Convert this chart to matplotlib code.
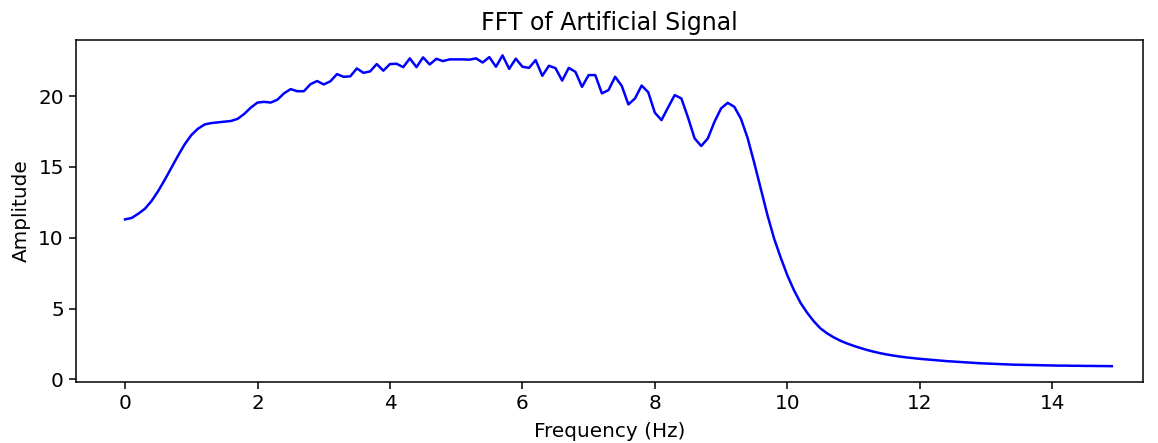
import numpy as np
import matplotlib
matplotlib.use('Agg')
import matplotlib.pyplot as plt

# frequency bins of the spectrum (0.1 Hz resolution)
freqs = np.round(np.arange(0, 15, 0.1), 1)

# FFT magnitude for each bin
amplitude = [
    11.30, 11.40, 11.70, 12.05, 12.60, 13.30, 14.10, 14.95, 15.80, 16.60,
    17.25, 17.70, 18.00, 18.10, 18.15, 18.20, 18.25, 18.40, 18.75, 19.20,
    19.55, 19.60, 19.55, 19.75, 20.20, 20.50, 20.35, 20.35, 20.85, 21.07,
    20.83, 21.05, 21.56, 21.37, 21.40, 21.96, 21.65, 21.75, 22.27, 21.80,
    22.27, 22.29, 22.05, 22.67, 22.05, 22.74, 22.24, 22.64, 22.48, 22.60,
    22.60, 22.60, 22.58, 22.67, 22.38, 22.76, 22.08, 22.88, 21.93, 22.65,
    22.08, 22.00, 22.55, 21.44, 22.15, 21.98, 21.10, 22.00, 21.72, 20.66,
    21.49, 21.49, 20.20, 20.43, 21.37, 20.73, 19.42, 19.84, 20.75, 20.28,
    18.83, 18.31, 19.21, 20.08, 19.84, 18.50, 17.02, 16.48, 17.02, 18.19,
    19.14, 19.53, 19.25, 18.40, 17.05, 15.30, 13.45, 11.60, 9.95, 8.60,
    7.35, 6.30, 5.40, 4.70, 4.10, 3.60, 3.25, 2.97, 2.73, 2.54,
    2.37, 2.22, 2.08, 1.96, 1.85, 1.76, 1.68, 1.61, 1.55, 1.50,
    1.45, 1.41, 1.37, 1.33, 1.29, 1.26, 1.23, 1.20, 1.17, 1.14,
    1.12, 1.10, 1.08, 1.06, 1.04, 1.03, 1.02, 1.01, 1.00, 0.99,
    0.98, 0.97, 0.97, 0.96, 0.96, 0.95, 0.95, 0.94, 0.94, 0.93,
]

fig = plt.figure(figsize=(11.58, 4.43), dpi=100)
ax = fig.add_axes([0.0654, 0.1383, 0.9216, 0.7717])
ax.plot(freqs, amplitude, color='blue', linewidth=1.8)
ax.set_xlim(-0.745, 15.37)
ax.set_title('FFT of Artificial Signal', fontsize=17, pad=7)
ax.set_xlabel('Frequency (Hz)', fontsize=14.4, labelpad=7)
ax.set_ylabel('Amplitude', fontsize=14.4, labelpad=5.5)
ax.tick_params(labelsize=14.4, length=5, width=1.1)
for s in ax.spines.values():
    s.set_linewidth(1.1)

fig.savefig('out.png', dpi=100)
